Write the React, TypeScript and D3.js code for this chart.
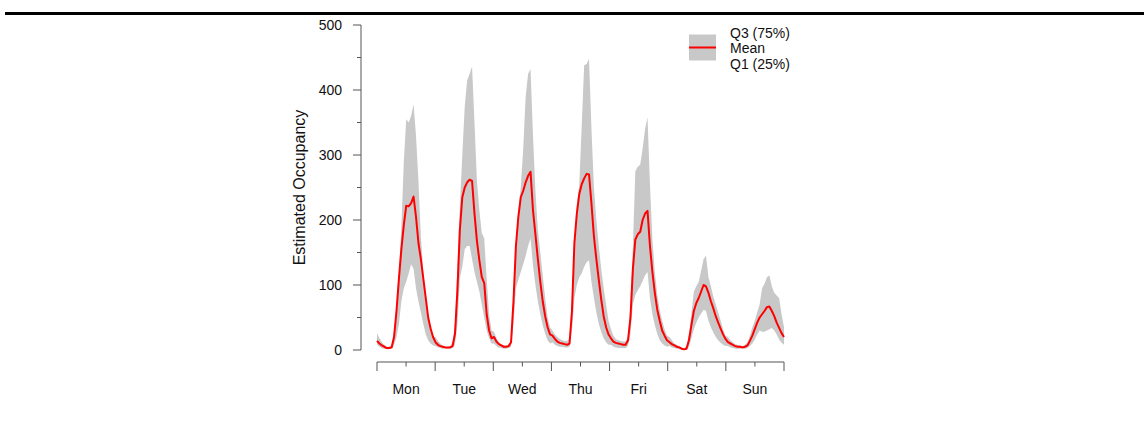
import React from "react";
import * as d3 from "d3";

const days = ["Mon", "Tue", "Wed", "Thu", "Fri", "Sat", "Sun"];
const yTicks = [0, 50, 100, 150, 200, 250, 300, 350, 400, 450, 500];
const legendLabels = ["Q3 (75%)", "Mean", "Q1 (25%)"];

// hourly values, Monday 00:00 .. Sunday 23:00
const meanValues = [
  14, 10, 7, 5, 3, 3, 4, 20, 60, 110, 155, 192, 222, 221, 226, 236, 205, 165, 140, 110, 80, 50, 33, 20,
  12, 8, 6, 5, 4, 4, 4, 6, 25, 92, 185, 235, 250, 258, 262, 260, 210, 168, 138, 112, 103, 55, 30, 18,
  20, 13, 9, 7, 5, 5, 6, 12, 75, 160, 205, 235, 245, 258, 268, 274, 215, 178, 140, 105, 75, 52, 35, 24,
  22, 17, 13, 11, 10, 9, 8, 10, 60, 165, 210, 240, 255, 264, 271, 270, 225, 175, 140, 108, 78, 52, 35, 24,
  18, 13, 11, 10, 9, 8, 8, 15, 50, 125, 170, 178, 182, 200, 210, 214, 160, 120, 88, 62, 45, 30, 22, 15,
  12, 9, 7, 5, 4, 2, 1, 2, 15, 38, 60, 72, 80, 90, 100, 98, 88, 75, 64, 52, 42, 33, 24, 17,
  12, 10, 8, 6, 5, 5, 4, 5, 7, 14, 22, 32, 42, 50, 55, 60, 66, 67, 60, 52, 42, 34, 26, 20,
];

const q3Values = [
  26, 18, 12, 8, 5, 5, 8, 30, 70, 120, 190, 290, 355, 350, 360, 378, 330, 260, 175, 120, 75, 50, 32, 20,
  20, 14, 10, 7, 5, 5, 6, 12, 40, 130, 220, 300, 375, 415, 425, 436, 350, 260, 215, 180, 172, 110, 55, 30,
  28, 18, 12, 9, 7, 7, 8, 15, 85, 165, 215, 250, 310, 390, 425, 432, 330, 245, 185, 150, 115, 80, 50, 35,
  30, 24, 20, 17, 15, 14, 14, 18, 80, 175, 225, 255, 345, 438, 440, 448, 340, 250, 200, 160, 125, 95, 70, 45,
  32, 22, 17, 15, 14, 13, 13, 20, 70, 160, 275, 282, 285, 310, 340, 358, 255, 170, 120, 85, 62, 45, 32, 22,
  20, 15, 10, 8, 6, 4, 3, 6, 25, 55, 90, 98, 105, 122, 140, 145, 112, 98, 82, 70, 58, 45, 32, 22,
  20, 15, 12, 9, 8, 7, 6, 8, 12, 22, 35, 45, 58, 70, 95, 102, 112, 115, 98, 88, 84, 80, 55, 35,
];

const q1Values = [
  8, 5, 3, 2, 1, 1, 2, 8, 20, 40, 75, 95, 105, 118, 132, 125, 95, 75, 58, 40, 24, 15, 10, 7,
  6, 4, 3, 2, 2, 2, 2, 3, 8, 40, 110, 128, 155, 160, 160, 140, 120, 105, 90, 70, 50, 30, 18, 10,
  10, 6, 4, 3, 2, 2, 3, 5, 40, 95, 108, 120, 132, 145, 160, 172, 130, 100, 75, 55, 38, 25, 15, 10,
  12, 8, 6, 5, 5, 4, 4, 5, 30, 80, 100, 112, 118, 128, 135, 138, 105, 80, 58, 40, 28, 18, 12, 8,
  8, 5, 4, 3, 3, 3, 3, 6, 25, 70, 85, 92, 98, 106, 115, 120, 80, 55, 38, 25, 15, 10, 7, 5,
  6, 4, 3, 2, 1, 0, 0, 1, 5, 18, 32, 42, 50, 56, 62, 60, 45, 35, 27, 20, 15, 11, 8, 6,
  6, 4, 3, 2, 2, 2, 2, 2, 3, 6, 10, 16, 24, 30, 28, 28, 30, 32, 34, 30, 24, 16, 11, 8,
];

const FONT = "'Liberation Sans', Arial, Helvetica, sans-serif";
const AXIS = "#555";

export default function App() {
  const n = meanValues.length;
  const x = d3.scaleLinear().domain([0, n - 1]).range([377, 784]);
  const y = d3.scaleLinear().domain([0, 500]).range([350, 25]);
  const dayPos = (d: number) => x((d * (n - 1)) / days.length);

  const idx = d3.range(n);
  const band = d3
    .area<number>()
    .x((i) => x(i))
    .y0((i) => y(q1Values[i]))
    .y1((i) => y(q3Values[i]));
  const line = d3
    .line<number>()
    .x((i) => x(i))
    .y((i) => y(meanValues[i]));

  const axisY = 362;
  const yAxisX = 361;

  return (
    <svg
      width={1144}
      height={423}
      style={{ position: "absolute", left: 0, top: 0, background: "#fff" }}
      fontFamily={FONT}
    >
      <rect x={0} y={0} width={1144} height={423} fill="#fff" />
      <line x1={5} x2={1144} y1={13.5} y2={13.5} stroke="#000" strokeWidth={3} />

      <path d={band(idx) || ""} fill="#c8c8c8" stroke="none" />
      <path d={line(idx) || ""} fill="none" stroke="#ff0000" strokeWidth={2} strokeLinejoin="round" />

      {/* Y axis */}
      <line x1={yAxisX} x2={yAxisX} y1={y(500)} y2={y(0)} stroke={AXIS} strokeWidth={1} />
      {yTicks.map((t) => {
        const major = t % 100 === 0;
        return (
          <g key={t}>
            <line
              x1={yAxisX - (major ? 8 : 4)}
              x2={yAxisX}
              y1={y(t)}
              y2={y(t)}
              stroke={AXIS}
              strokeWidth={1}
            />
            {major && (
              <text x={342} y={y(t) + 5} textAnchor="end" fontSize={14} fill="#111">
                {t}
              </text>
            )}
          </g>
        );
      })}
      <text
        transform={`translate(305,${(y(0) + y(500)) / 2}) rotate(-90)`}
        textAnchor="middle"
        fontSize={16}
        fill="#111"
      >
        Estimated Occupancy
      </text>

      {/* X axis */}
      <line x1={dayPos(0)} x2={dayPos(7)} y1={axisY} y2={axisY} stroke={AXIS} strokeWidth={1} />
      {d3.range(days.length + 1).map((d) => (
        <line
          key={"M" + d}
          x1={dayPos(d)}
          x2={dayPos(d)}
          y1={axisY}
          y2={axisY + 9}
          stroke={AXIS}
          strokeWidth={1}
        />
      ))}
      {days.map((dname, d) => {
        const cx = dayPos(d + 0.5);
        return (
          <g key={dname}>
            <line x1={cx} x2={cx} y1={axisY} y2={axisY + 4.5} stroke={AXIS} strokeWidth={1} />
            <text x={cx} y={394} textAnchor="middle" fontSize={14} fill="#111">
              {dname}
            </text>
          </g>
        );
      })}

      {/* Legend */}
      <rect x={689} y={34.5} width={27} height={26} fill="#c8c8c8" />
      <line x1={689} x2={716} y1={47.5} y2={47.5} stroke="#ff0000" strokeWidth={2} />
      {legendLabels.map((l, i) => (
        <text key={l} x={730} y={37.5 + i * 15.5} fontSize={14} fill="#111">
          {l}
        </text>
      ))}
    </svg>
  );
}
